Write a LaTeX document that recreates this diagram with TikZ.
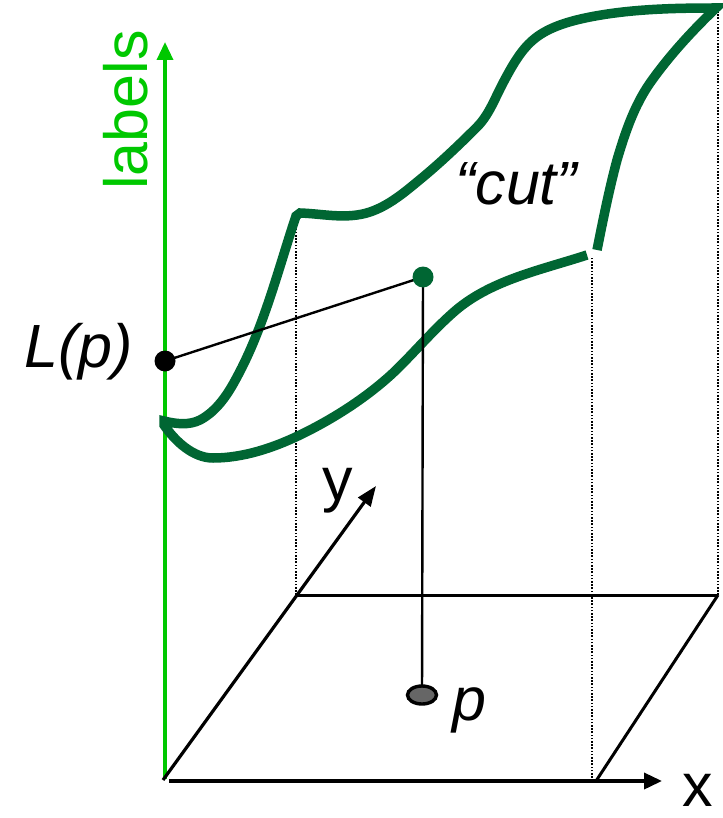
\documentclass[tikz,border=0pt]{standalone}
\usepackage{fontspec}
\setmainfont{Liberation Sans}
\usetikzlibrary{arrows.meta,shapes.geometric}
\definecolor{cutgreen}{RGB}{0,102,51}
\definecolor{axisgreen}{RGB}{0,200,0}
\begin{document}
\begin{tikzpicture}[x=1pt,y=-1pt,
  axisline/.style={line width=3.6pt,black},
  floorline/.style={line width=3pt,black},
  dotline/.style={line width=1.8pt,black,dash pattern=on 1.6pt off 1.6pt},
  thinline/.style={line width=2.4pt,black},
  cutline/.style={line width=9.5pt,cutgreen,line join=miter,line cap=butt},
  bigtext/.style={font=\fontsize{61}{70}\selectfont,inner sep=0pt},
  ittext/.style={font=\fontsize{61}{70}\selectfont\itshape,inner sep=0pt},
  greendot/.style={circle,fill=cutgreen,inner sep=0pt,minimum size=21pt},
  blackdot/.style={circle,fill=black,inner sep=0pt,minimum size=21pt},
  pdot/.style={ellipse,draw=black,line width=3.4pt,fill=black!60,inner sep=0pt,minimum width=29pt,minimum height=18pt}]
\useasboundingbox (0,0) rectangle (722,818);
% named points
\coordinate (O) at (163,780);
\coordinate (Xtip) at (662,781);
\coordinate (Xstart) at (169,781);
\coordinate (Ytip) at (376,486);
\coordinate (Ltop) at (165,42);
\coordinate (Lbot) at (165,779);
\coordinate (BL) at (296,595);
\coordinate (BR) at (718,595);
\coordinate (FR) at (596,781);
\coordinate (D1b) at (296,595);
\coordinate (D1t) at (296,219);
\coordinate (D2b) at (592,781);
\coordinate (D2t) at (592,257);
\coordinate (D3b) at (718,595);
\coordinate (D3t) at (718,8);
\coordinate (cpc) at (423,277);
\coordinate (Lpc) at (165,361);
\coordinate (pc) at (422,695);
% labels axis
\draw[line width=3.4pt,axisgreen,-{Triangle[length=18pt,width=16pt]}] (Lbot) -- (Ltop);
\node[bigtext,text=axisgreen,rotate=90,anchor=base west] (lab) at (147,190) {labels};
% floor
\draw[floorline] (BL) -- (BR);
\draw[floorline] (BR) -- (FR);
\draw[axisline,-{Triangle[length=18pt,width=16pt]}] (Xstart) -- (Xtip);
\draw[axisline,line width=3.2pt,-{Triangle[length=20pt,width=15pt]}] (O) -- (Ytip);
% dotted verticals
\draw[dotline] (D1b) -- (D1t);
\draw[dotline] (D2b) -- (D2t);
\draw[dotline] (D3b) -- (D3t);
% cut curve
\draw[cutline]
  (587,255) .. controls (541,270) and (491,280) .. (455,311)
  .. controls (433,330) and (414,353) .. (393,373)
  .. controls (366,398) and (333,419) .. (300,435)
  .. controls (273,448) and (243,458) .. (213,458)
  .. controls (193,458) and (175,441) .. (164,425)
  -- (164,421)
  .. controls (176,424) and (189,425.5) .. (200,420)
  .. controls (217,411) and (228,394) .. (237,377)
  .. controls (264,327) and (278,270) .. (296,216)
  -- (300,213)
  .. controls (319,213.6) and (338,217.7) .. (357,215)
  .. controls (380,212) and (399,197) .. (417,182)
  .. controls (438,165) and (458,146) .. (477,127)
  .. controls (489,115) and (495,98) .. (503,83)
  .. controls (511,68) and (520,51) .. (533,40)
  .. controls (548,27) and (570,21) .. (590,17)
  .. controls (631,9) and (674,8) .. (716,8)
  .. controls (692,31) and (669,56) .. (650,83)
  .. controls (634,106) and (625,133) .. (617,160)
  .. controls (609,190) and (603,220) .. (597,250);
% connectors
\draw[thinline] (cpc) -- (pc);
\draw[thinline] (cpc) -- (Lpc);
% points
\node[greendot] (cp) at (cpc) {};
\node[blackdot] (Lp) at (Lpc) {};
\node[pdot] (p) at (pc) {};
% texts
\node[ittext,anchor=base east] (Ltext) at (133,367) {L(p)};
\node[ittext,anchor=base west] (cut) at (455,205) {“cut”};
\node[bigtext,anchor=base west] (ytext) at (322,500) {y};
\node[bigtext,anchor=base west] (xtext) at (682,806) {x};
\node[ittext,anchor=base west] (ptext) at (452,720) {p};
\end{tikzpicture}
\end{document}
